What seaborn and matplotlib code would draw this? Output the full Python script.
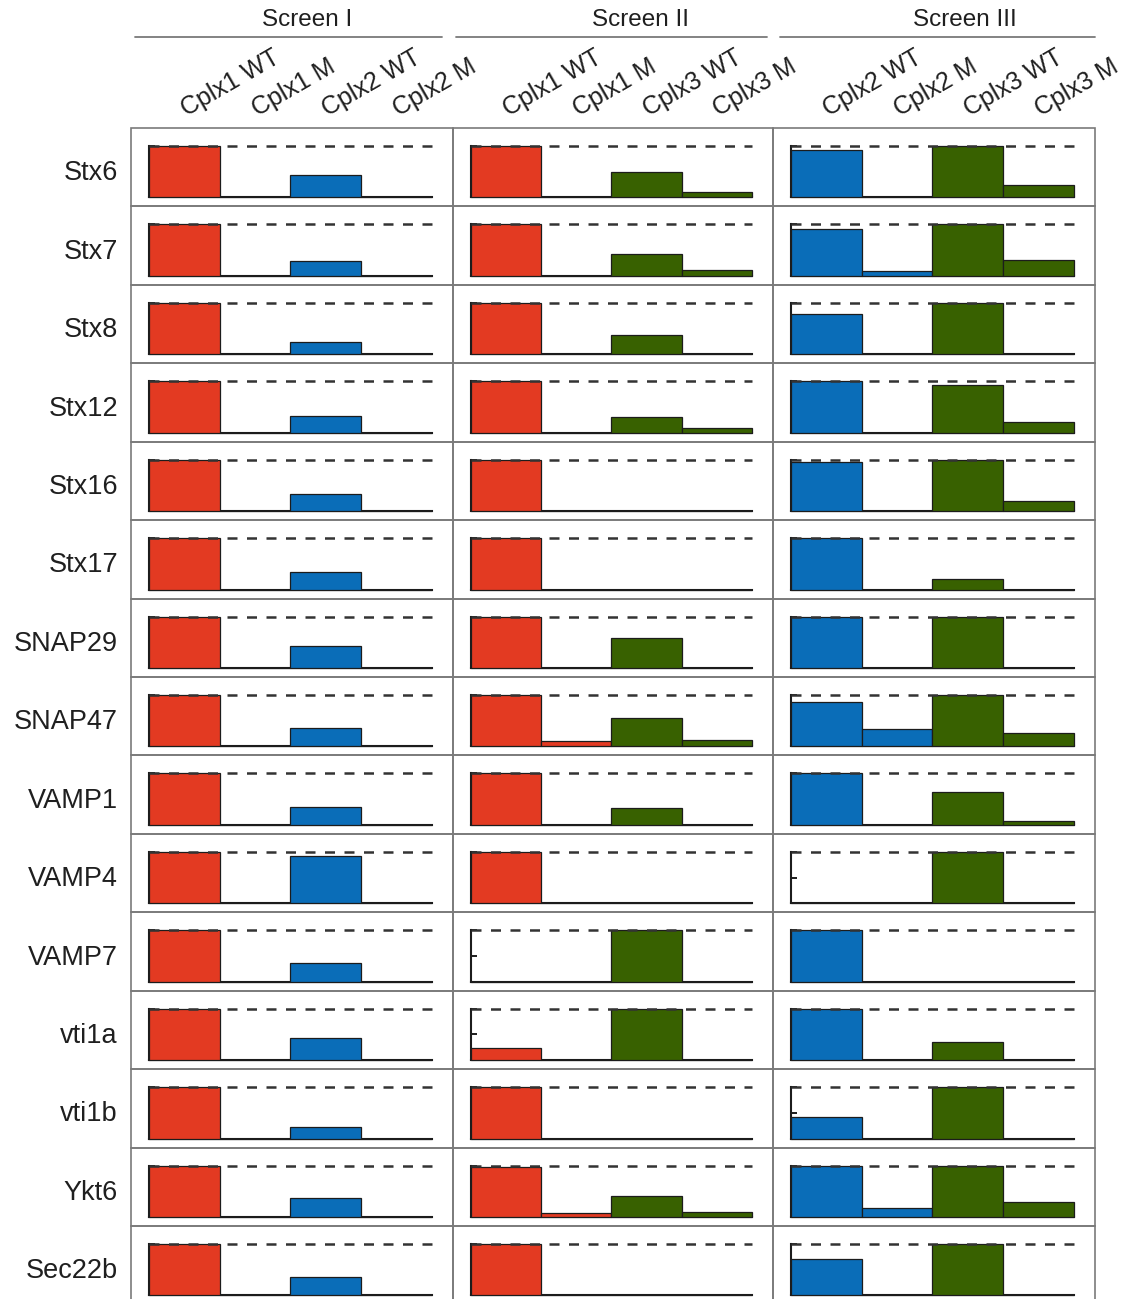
import numpy as np
import pandas as pd
import matplotlib
matplotlib.use("Agg")
import matplotlib.pyplot as plt
from matplotlib.lines import Line2D
from matplotlib.patches import Rectangle
import matplotlib.transforms as mtransforms
import seaborn as sns

sns.set_style("white")
plt.rcParams["font.family"] = ["Liberation Sans", "DejaVu Sans"]

# ---- data -------------------------------------------------------------
proteins = ["Stx6", "Stx7", "Stx8", "Stx12", "Stx16", "Stx17", "SNAP29",
            "SNAP47", "VAMP1", "VAMP4", "VAMP7", "vti1a", "vti1b", "Ykt6",
            "Sec22b"]

screen_titles = ["Screen I", "Screen II", "Screen III"]
screen1_labels = ["Cplx1 WT", "Cplx1 M", "Cplx2 WT", "Cplx2 M"]
screen2_labels = ["Cplx1 WT", "Cplx1 M", "Cplx3 WT", "Cplx3 M"]
screen3_labels = ["Cplx2 WT", "Cplx2 M", "Cplx3 WT", "Cplx3 M"]

# Screen I
s1_cplx1_wt = [1.0, 1.0, 1.0, 1.0, 1.0, 1.0, 1.0, 1.0, 1.0, 1.0, 1.0, 1.0, 1.0, 1.0, 1.0]
s1_cplx1_m = [0.0, 0.0, 0.0, 0.0, 0.0, 0.0, 0.0, 0.0, 0.0, 0.0, 0.0, 0.0, 0.0, 0.0, 0.0]
s1_cplx2_wt = [0.43, 0.28, 0.24, 0.32, 0.33, 0.34, 0.42, 0.35, 0.35, 0.92, 0.36, 0.44, 0.23, 0.37, 0.35]
s1_cplx2_m = [0.0, 0.0, 0.0, 0.0, 0.0, 0.0, 0.0, 0.0, 0.0, 0.0, 0.0, 0.0, 0.0, 0.0, 0.0]

# Screen II
s2_cplx1_wt = [1.0, 1.0, 1.0, 1.0, 1.0, 1.0, 1.0, 1.0, 1.0, 1.0, 0.0, 0.23, 1.0, 0.97, 1.0]
s2_cplx1_m = [0.0, 0.0, 0.0, 0.0, 0.0, 0.0, 0.0, 0.10, 0.0, 0.0, 0.0, 0.0, 0.0, 0.07, 0.0]
s2_cplx3_wt = [0.50, 0.42, 0.37, 0.31, 0.0, 0.0, 0.58, 0.56, 0.32, 0.0, 1.0, 1.0, 0.0, 0.41, 0.0]
s2_cplx3_m = [0.11, 0.12, 0.0, 0.085, 0.0, 0.0, 0.0, 0.13, 0.0, 0.0, 0.0, 0.0, 0.0, 0.09, 0.0]

# Screen III
s3_cplx2_wt = [0.92, 0.92, 0.78, 1.0, 0.96, 1.0, 1.0, 0.87, 1.0, 0.0, 1.0, 1.0, 0.42, 1.0, 0.70]
s3_cplx2_m = [0.0, 0.09, 0.0, 0.0, 0.0, 0.0, 0.0, 0.33, 0.0, 0.0, 0.0, 0.0, 0.0, 0.18, 0.0]
s3_cplx3_wt = [1.0, 1.0, 1.0, 0.92, 1.0, 0.20, 1.0, 1.0, 0.64, 1.0, 0.0, 0.35, 1.0, 1.0, 1.0]
s3_cplx3_m = [0.25, 0.31, 0.0, 0.21, 0.19, 0.0, 0.0, 0.27, 0.07, 0.0, 0.0, 0.0, 0.0, 0.30, 0.0]

RED = "#E33A22"
BLUE = "#0A6DB8"
GREEN = "#386100"
family_colors = {"Cplx1": RED, "Cplx2": BLUE, "Cplx3": GREEN}

screens = [
    (screen1_labels, [s1_cplx1_wt, s1_cplx1_m, s1_cplx2_wt, s1_cplx2_m]),
    (screen2_labels, [s2_cplx1_wt, s2_cplx1_m, s2_cplx3_wt, s2_cplx3_m]),
    (screen3_labels, [s3_cplx2_wt, s3_cplx2_m, s3_cplx3_wt, s3_cplx3_m]),
]

# ---- layout (pixels) ---------------------------------------------------
W, H = 1128, 1299
fig = plt.figure(figsize=(W / 100, H / 100), dpi=100)

col_edges = [131, 453, 773, 1095]
grid_top = 128
row_h = 78.43
xlim = (-0.755, 3.80)
ylim = (-0.175, 1.35)
frame_color = "#7a7a7a"
text_color = "#1f1f1f"

for c, (labels, series) in enumerate(screens):
    colors = [family_colors[l.split()[0]] for l in labels]
    x0, x1 = col_edges[c], col_edges[c + 1]
    for r, prot in enumerate(proteins):
        top = grid_top + r * row_h
        ax = fig.add_axes([x0 / W, 1 - (top + row_h) / H, (x1 - x0) / W, row_h / H])
        df = pd.DataFrame({"condition": labels,
                           "value": [s[r] for s in series]})
        sns.barplot(data=df, x="condition", y="value", hue="condition",
                    order=labels, hue_order=labels, palette=colors,
                    saturation=1, legend=False, width=1.0, errorbar=None,
                    edgecolor="#1c1c1c", linewidth=0.9, zorder=3, ax=ax)
        # reference level at 1.0
        ax.hlines(1.0, -0.5, 3.5, colors="#333333", linewidth=1.8,
                  linestyles=(0, (4.0, 3.8)), zorder=4)
        ax.set_xlim(*xlim)
        ax.set_ylim(*ylim)
        ax.set_xlabel("")
        ax.set_ylabel("")
        ax.set_xticks([])
        ax.set_yticks([0, 0.5, 1.0])
        ax.set_yticklabels([])
        ax.tick_params(axis="y", direction="in", length=4, width=1.4,
                       color="#1c1c1c", left=True, pad=0)
        for side in ("top", "right"):
            ax.spines[side].set_visible(False)
        ax.spines["left"].set_position(("data", -0.5))
        ax.spines["left"].set_bounds(0, 1.0)
        ax.spines["bottom"].set_position(("data", 0))
        ax.spines["bottom"].set_bounds(-0.5, 3.5)
        for side in ("left", "bottom"):
            ax.spines[side].set_linewidth(1.5)
            ax.spines[side].set_color("#1c1c1c")
            ax.spines[side].set_zorder(2.5)
        ax.patch.set_alpha(0)
        ax.add_patch(Rectangle((0, 0), 1, 1, transform=ax.transAxes,
                               fill=False, edgecolor=frame_color,
                               linewidth=1.2, clip_on=False, zorder=0))

        if r == 0:
            trans = mtransforms.blended_transform_factory(ax.transData, ax.transAxes)
            for i, lab in enumerate(labels):
                ax.text(i + 0.03, 1.15, lab, transform=trans, rotation=30,
                        rotation_mode="anchor", ha="left", va="baseline",
                        fontsize=18, color=text_color, clip_on=False)

        if c == 0:
            fig.text(118 / W, 1 - (top + row_h / 2 + 6) / H, prot,
                     ha="right", va="center", fontsize=19.5, color=text_color)

# screen headers with rules beneath
title_x = [307, 640, 965]
rule_spans = [(135, 442), (456, 767), (780, 1095)]
for t, tx, (a, b) in zip(screen_titles, title_x, rule_spans):
    fig.text(tx / W, 1 - 20 / H, t, ha="center", va="center",
             fontsize=17.5, color=text_color)
    fig.add_artist(Line2D([a / W, b / W], [1 - 37 / H, 1 - 37 / H],
                          color=frame_color, linewidth=1.3))

fig.savefig("out.png", dpi=100)
